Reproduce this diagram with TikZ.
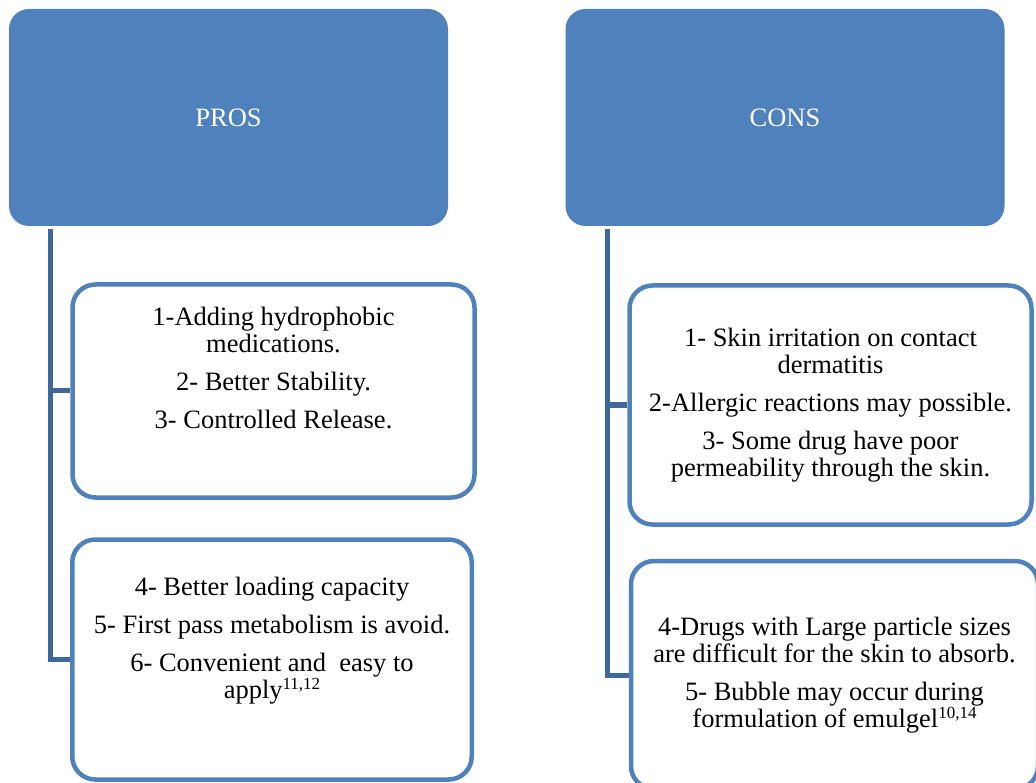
\documentclass[tikz,border=0pt]{standalone}
\usepackage{fontspec}
\setmainfont{Liberation Serif}
\usepackage{tikz}
\definecolor{hdrblue}{RGB}{79,129,189}
\definecolor{stemblue}{RGB}{62,104,156}
\newcommand{\refnum}[1]{\raisebox{9pt}{\fontsize{17}{17}\selectfont #1}}

\begin{document}
\begin{tikzpicture}[x=1pt,y=-1pt,
    header/.style={fill=hdrblue, rounded corners=20pt, minimum width=439pt, minimum height=217pt,
                   inner sep=0pt, text=white, font=\fontsize{26.5}{27}\selectfont},
    itembox/.style={draw=hdrblue, line width=4.5pt, rounded corners=23pt, fill=white,
                    inner sep=0pt, align=center, font=\fontsize{26.5}{27}\selectfont},
    link/.style={draw=stemblue, line width=5pt}]
            \useasboundingbox (0,0) rectangle (1036,783);
            \clip (0,0) rectangle (1036,783);

            % Intestazioni
            \node[header] (pros) at (228.5,117.5) {PROS};
            \node[header] (cons) at (785,117.5) {CONS};

            % Riquadri PROS
            \node[itembox, minimum width=402pt, minimum height=213pt] (pb1) at (273.5,391)
                {1-Adding hydrophobic\\ medications.\\[11pt] 2- Better Stability.\\[11pt] 3- Controlled Release.\\[20pt]\mbox{}};
            \node[itembox, minimum width=399.5pt, minimum height=240pt] (pb2) at (272,659.5)
                {4- Better loading capacity\\[11pt] 5- First pass metabolism is avoid.\\[11pt] 6- Convenient and\ \ easy to\\ apply\refnum{11,12}\\[17pt]\mbox{}};

            % Riquadri CONS
            \node[itembox, minimum width=402pt, minimum height=239pt] (cb1) at (830.5,405)
                {1- Skin irritation on contact\\ dermatitis\\[11pt] 2-Allergic reactions may possible.\\[11pt] 3- Some drug have poor\\ permeability through the skin.};
            \node[itembox, minimum width=407pt, minimum height=228pt] (cb2) at (834.5,675)
                {4-Drugs with Large particle sizes\\ are difficult for the skin to absorb.\\[11pt] 5- Bubble may occur during\\ formulation of emulgel\refnum{10,14}};

            % Collegamenti
            \coordinate (pstem) at ([xshift=42pt,yshift=-3pt]pros.south west);
            \coordinate (cstem) at ([xshift=42pt,yshift=-3pt]cons.south west);
            \draw[link] (pstem) |- (pb2.west);
            \draw[link] (pstem |- pb1.west) -- (pb1.west);
            \draw[link] (cstem) |- (cb2.west);
            \draw[link] (cstem |- cb1.west) -- (cb1.west);
\end{tikzpicture}
\end{document}
